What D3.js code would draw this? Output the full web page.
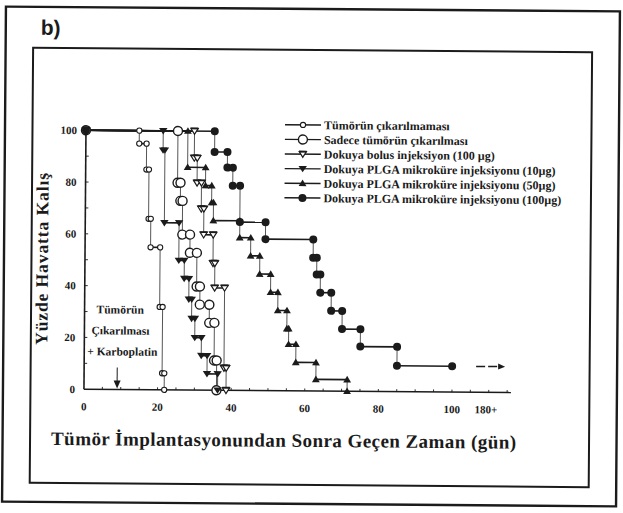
<!DOCTYPE html>
<html>
<head>
<meta charset="utf-8">
<script src="https://cdn.jsdelivr.net/npm/d3@7"></script>
<style>
  html, body { margin: 0; padding: 0; background: #fff; }
  svg { display: block; }
</style>
</head>
<body>
<svg id="chart" width="623" height="513"></svg>
<script>
// Kaplan–Meier survival steps: day of each drop and the survival (%) after it
const legendLabels = [
  "Tümörün çıkarılmaması",
  "Sadece tümörün çıkarılması",
  "Dokuya bolus injeksiyon (100 µg)",
  "Dokuya PLGA mikroküre injeksiyonu (10µg)",
  "Dokuya PLGA mikroküre injeksiyonu (50µg)",
  "Dokuya PLGA mikroküre injeksiyonu (100µg)"
];
const daysNoRemoval   = [0, 14.5, 16.5, 17.2, 17.8, 20.4, 21.2, 21.8];
const survNoRemoval   = [100, 95, 85, 66, 55, 32, 6.4, 0];
const daysRemovalOnly = [0, 25, 25.8, 26.4, 28.5, 30.4, 31.3, 33.9, 35.3, 36];
const survRemovalOnly = [100, 80, 73, 60, 53, 40, 33, 26, 11.5, 0];
const daysBolus       = [0, 29.5, 30.3, 31.5, 32.2, 34.8, 35.3, 38, 38.6];
const survBolus       = [100, 89.6, 80, 70, 60, 49, 39.5, 8.6, 0];
const daysPlga10      = [0, 21, 21.5, 25.5, 27, 28.3, 29.1, 30, 31.8, 33.4, 36.3];
const survPlga10      = [100, 92.5, 64.5, 50, 43, 35, 27.6, 20.2, 13.3, 6.3, 0];
const daysPlga50      = [0, 27.7, 32.6, 34.3, 34.8, 42, 45, 47.5, 50.5, 52.5, 55, 55.5, 57.5, 63, 71.5];
const survPlga50      = [100, 86, 79, 72.5, 65.5, 59, 52, 45, 38, 31, 24, 18, 11, 4.5, 0];
const daysPlga100     = [0, 35, 38.5, 40, 42, 49, 62, 63, 64, 67, 70, 75, 85];
const survPlga100     = [100, 92, 86, 79, 65, 58.5, 51.5, 45, 38, 31, 24, 17.3, 10];
const lastDayPlga100  = 100;

const xTicks = [0, 20, 40, 60, 80, 100];
const yTicks = [0, 20, 40, 60, 80, 100];
const xOverflowLabel = "180+";
const treatmentDay = 9;
const treatmentNote = ["Tümörün", "Çıkarılması", "+ Karboplatin"];
const xTitle = "Tümör İmplantasyonundan Sonra Geçen Zaman (gün)";
const yTitle = "Yüzde Havatta Kalış";
const panelTag = "b)";

const INK = "#1b1b1b";
const SERIF = "'Liberation Serif', 'DejaVu Serif', serif";

const series = [
  { days: daysNoRemoval,   surv: survNoRemoval,   mark: "smallOpen" },
  { days: daysRemovalOnly, surv: survRemovalOnly, mark: "bigOpen" },
  { days: daysBolus,       surv: survBolus,       mark: "cup" },
  { days: daysPlga10,      surv: survPlga10,      mark: "downTri" },
  { days: daysPlga50,      surv: survPlga50,      mark: "upTri" },
  { days: daysPlga100,     surv: survPlga100,     mark: "dot", end: lastDayPlga100 }
];

const svg = d3.select("#chart");
// the whole sheet sits slightly skewed on the page
const root = svg.append("g").attr("transform", "rotate(0.45 311 256)");

// frames
root.append("rect").attr("x", 4).attr("y", 9).attr("width", 614).attr("height", 495)
  .attr("fill", "none").attr("stroke", INK).attr("stroke-width", 2.4);
root.append("rect").attr("x", 31.5).attr("y", 50).attr("width", 559).attr("height", 435)
  .attr("fill", "none").attr("stroke", INK).attr("stroke-width", 2);

root.append("text").attr("x", 39).attr("y", 37)
  .attr("font-family", "'Liberation Sans', Arial, sans-serif").attr("font-weight", "bold")
  .attr("font-size", 21).attr("fill", INK).text(panelTag);

const x = d3.scaleLinear().domain([0, 100]).range([85, 453]);
const y = d3.scaleLinear().domain([0, 100]).range([391, 132]);

// axes
const axisG = root.append("g");
axisG.append("line").attr("x1", x(0)).attr("x2", 512).attr("y1", y(0)).attr("y2", y(0))
  .attr("stroke", INK).attr("stroke-width", 1.6);
axisG.append("line").attr("x1", x(0)).attr("x2", x(0)).attr("y1", y(0)).attr("y2", y(100) - 3)
  .attr("stroke", INK).attr("stroke-width", 1.6);

// minor ticks (inward)
d3.range(5, 116, 5).forEach(d => {
  axisG.append("line").attr("x1", x(d)).attr("x2", x(d)).attr("y1", y(0)).attr("y2", y(0) - 2.5)
    .attr("stroke", INK).attr("stroke-width", 0.9);
});
d3.range(10, 101, 10).forEach(v => {
  axisG.append("line").attr("x1", x(0)).attr("x2", x(0) + 3).attr("y1", y(v)).attr("y2", y(v))
    .attr("stroke", INK).attr("stroke-width", 0.9);
});

const tickFont = g => g.attr("font-family", SERIF).attr("font-weight", "bold")
  .attr("font-size", 11).attr("fill", INK);

axisG.selectAll(".xl").data(xTicks).join("text").attr("class", "xl")
  .attr("x", d => x(d)).attr("y", 412).attr("text-anchor", "middle")
  .call(tickFont).text(d => d);
axisG.append("text").attr("x", 487).attr("y", 412).attr("text-anchor", "middle")
  .call(tickFont).text(xOverflowLabel);
axisG.selectAll(".yl").data(yTicks).join("text").attr("class", "yl")
  .attr("x", 76).attr("y", d => y(d)).attr("dy", "0.35em").attr("text-anchor", "end")
  .call(tickFont).text(d => d);

// axis titles
root.append("text").attr("x", 285).attr("y", 447).attr("text-anchor", "middle")
  .attr("font-family", SERIF).attr("font-weight", "bold").attr("font-size", 19)
  .attr("fill", INK).attr("textLength", 465).attr("lengthAdjust", "spacing").text(xTitle);
root.append("text").attr("transform", `translate(48,${261}) rotate(-90)`)
  .attr("text-anchor", "middle")
  .attr("font-family", SERIF).attr("font-weight", "bold").attr("font-size", 17.5)
  .attr("fill", INK).attr("textLength", 172).attr("lengthAdjust", "spacing").text(yTitle);

// marker shapes
function drawMark(g, kind, cx, cy) {
  if (kind === "smallOpen") {
    g.append("circle").attr("cx", cx).attr("cy", cy).attr("r", 2.6)
      .attr("fill", "#fff").attr("stroke", INK).attr("stroke-width", 1.1);
  } else if (kind === "bigOpen") {
    g.append("circle").attr("cx", cx).attr("cy", cy).attr("r", 4.5)
      .attr("fill", "#fff").attr("stroke", INK).attr("stroke-width", 1.4);
  } else if (kind === "cup") {
    g.append("path").attr("transform", `translate(${cx},${cy})`)
      .attr("d", "M-3.6,-2.6L3.6,-2.6L0,3.2Z")
      .attr("fill", "#fff").attr("stroke", INK).attr("stroke-width", 1.2);
    g.append("line").attr("x1", cx - 3.8).attr("x2", cx + 3.8).attr("y1", cy - 2.6).attr("y2", cy - 2.6)
      .attr("stroke", INK).attr("stroke-width", 1.8);
  } else if (kind === "downTri") {
    g.append("path").attr("transform", `translate(${cx},${cy})`)
      .attr("d", "M-4.2,-2.8L4.2,-2.8L0,3.6Z").attr("fill", INK);
  } else if (kind === "upTri") {
    g.append("path").attr("transform", `translate(${cx},${cy})`)
      .attr("d", "M-3.9,2.8L3.9,2.8L0,-3.8Z").attr("fill", INK);
  } else if (kind === "dot") {
    g.append("circle").attr("cx", cx).attr("cy", cy).attr("r", 4).attr("fill", INK);
  }
}

// step curves
const lineG = root.append("g");
const markG = root.append("g");
series.forEach(s => {
  const n = s.days.length;
  for (let i = 0; i < n; i++) {
    const t0 = s.days[i], v = s.surv[i];
    if (i > 0) {
      lineG.append("line").attr("x1", x(t0)).attr("x2", x(t0))
        .attr("y1", y(s.surv[i - 1])).attr("y2", y(v))
        .attr("stroke", "#444").attr("stroke-width", 0.9);
    }
    if (v > 0) {
      const t1 = i < n - 1 ? s.days[i + 1] : s.end;
      lineG.append("line").attr("x1", x(t0)).attr("x2", x(t1)).attr("y1", y(v)).attr("y2", y(v))
        .attr("stroke", INK).attr("stroke-width", 1.6);
    }
  }
});
series.forEach(s => {
  const n = s.days.length;
  for (let i = 0; i < n; i++) {
    const t0 = s.days[i], v = s.surv[i];
    drawMark(markG, s.mark, x(t0), y(v));
    if (v > 0) {
      const t1 = i < n - 1 ? s.days[i + 1] : s.end;
      drawMark(markG, s.mark, x(t1), y(v));
    }
  }
});

// follow-up of the 100 µg group continues past the axis break
const lastV = survPlga100[survPlga100.length - 1];
root.append("line").attr("x1", x(lastDayPlga100) + 24).attr("x2", x(lastDayPlga100) + 47)
  .attr("y1", y(lastV)).attr("y2", y(lastV))
  .attr("stroke", INK).attr("stroke-width", 1.5).attr("stroke-dasharray", "9,3");
root.append("path")
  .attr("transform", `translate(${x(lastDayPlga100) + 53},${y(lastV)})`)
  .attr("d", "M0,0L-7,-3L-7,3Z").attr("fill", INK);

// treatment note and arrow
const noteG = root.append("g").attr("font-family", SERIF).attr("font-weight", "bold")
  .attr("font-size", 11.5).attr("fill", INK);
noteG.selectAll("text").data(treatmentNote).join("text")
  .attr("x", (d, i) => i === 2 ? 88 : (i === 1 ? 92 : 97))
  .attr("y", (d, i) => 315 + i * 21).text(d => d);
root.append("line").attr("x1", x(treatmentDay)).attr("x2", x(treatmentDay))
  .attr("y1", 369).attr("y2", y(0) - 6).attr("stroke", INK).attr("stroke-width", 1);
root.append("path").attr("transform", `translate(${x(treatmentDay)},${y(0) - 1})`)
  .attr("d", "M0,0L-3.5,-8L3.5,-8Z").attr("fill", INK);

// legend
const legG = root.append("g");
legendLabels.forEach((lab, i) => {
  const ly = 125 + i * 14.6;
  legG.append("line").attr("x1", 284).attr("x2", 320).attr("y1", ly).attr("y2", ly)
    .attr("stroke", INK).attr("stroke-width", 1.4);
  drawMark(legG, series[i].mark, 302, ly);
  legG.append("text").attr("x", 323).attr("y", ly).attr("dy", "0.35em")
    .attr("font-family", SERIF).attr("font-weight", "bold").attr("font-size", 12)
    .attr("fill", INK).text(lab);
});
</script>
</body>
</html>
